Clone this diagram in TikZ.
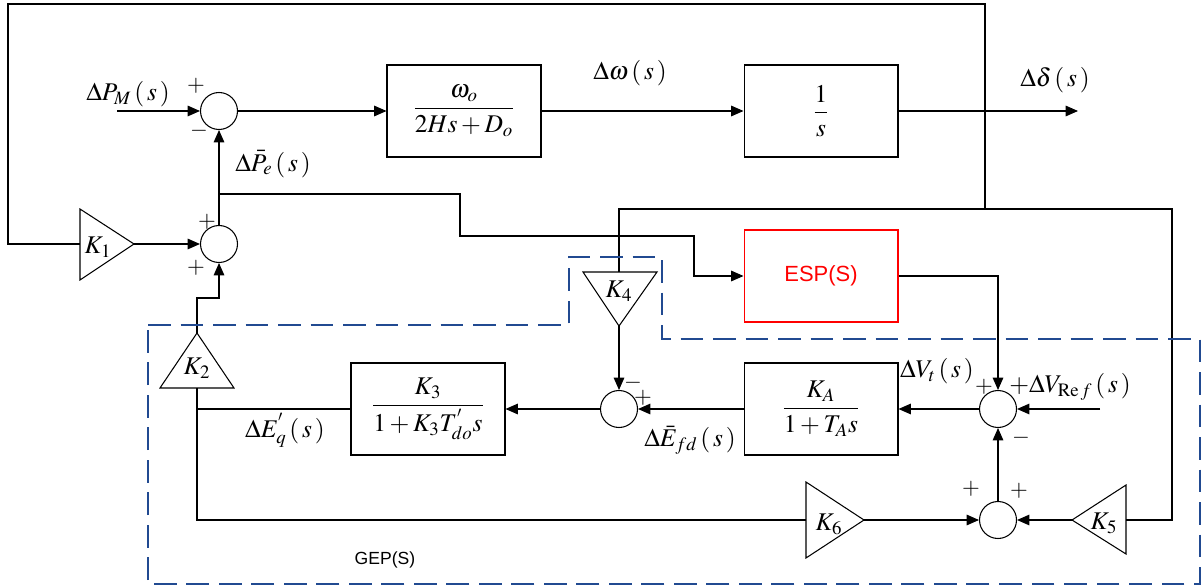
\documentclass[tikz,border=0pt]{standalone}
\usepackage{amsmath}
\usepackage{mathptmx}
\usepackage[no-math]{fontspec}
\newfontfamily\arial{Liberation Sans}
\usetikzlibrary{arrows.meta}

\definecolor{gepblue}{RGB}{33,74,145}
\tikzset{
  sig/.style={-{Triangle[length=7pt,width=6pt]}},
  blk/.style={draw,minimum width=3.08cm,minimum height=1.84cm,inner sep=0pt},
  sumnode/.style={circle,draw,minimum size=0.74cm,inner sep=0pt},
  gep/.style={draw=gepblue,line width=1.6pt,dash pattern=on 13pt off 5.5pt},
  sign/.style={font=\fontsize{13}{15}\selectfont},
}

\begin{document}
\begin{tikzpicture}[x=0.02cm,y=-0.02cm,line width=0.6pt,
  every node/.style={font=\fontsize{14.5}{17}\selectfont}]
\useasboundingbox (0,0) rectangle (1202,587);

% summing points
\node[sumnode] (s1) at (219,111) {};
\node[sumnode] (s2) at (219,244) {};
\node[sumnode] (s3) at (998,409) {};
\node[sumnode] (s4) at (619,409) {};
\node[sumnode] (s5) at (998,520) {};

% transfer blocks
\node[blk] (b1) at (464,111) {$\dfrac{\omega_o}{2Hs+D_o}$};
\node[blk] (b2) at (821,111) {$\dfrac{1}{s}$};
\node[blk,draw=red] (esp) at (821,276) {\arial\fontsize{12.5}{14}\selectfont\color{red}ESP(S)};
\node[blk] (ka) at (821,409) {$\dfrac{K_A}{1+T_A s}$};
\node[blk] (k3) at (428,409) {$\dfrac{K_3}{1+K_3T^{'}_{do}s}$};

% gains
\draw (80,209) -- (134,244) -- (80,280) -- cycle;
\coordinate (k1b) at (80,244); \coordinate (k1a) at (134,244);
\node (k1) at (98,247) {$K_1$};
\draw (160,388) -- (197,333) -- (234,388) -- cycle;
\coordinate (k2a) at (197,333); \coordinate (k2b) at (197,388);
\node (k2) at (197,368) {$K_2$};
\draw (583,272) -- (619,326) -- (657,272) -- cycle;
\coordinate (k4b) at (619,272); \coordinate (k4a) at (619,326);
\node (k4) at (619,291) {$K_4$};
\draw (806,482) -- (864,520) -- (806,558) -- cycle;
\coordinate (k6b) at (806,520); \coordinate (k6a) at (864,520);
\node (k6) at (829,524) {$K_6$};
\draw (1126,485) -- (1072,520) -- (1126,554) -- cycle;
\coordinate (k5a) at (1072,520); \coordinate (k5b) at (1126,520);
\node (k5) at (1104,523) {$K_5$};

% forward path
\coordinate (pm) at (117,111);
\coordinate (out) at (1078,111);
\draw[sig] (pm) -- (s1.west);
\draw[sig] (s1.east) -- (b1.west);
\draw[sig] (b1.east) -- (b2.west);
\draw[sig] (b2.east) -- (out);

% rotor angle fed back to K1, K4, K5
\coordinate (tl) at (8,4); \coordinate (tr) at (985,4);
\coordinate (tj) at (985,209); \coordinate (dr) at (1172,209);
\draw (tj) -- (tr) -- (tl) |- (k1b);
\draw (k4b) |- (tj) -- (dr) |- (k5b);

\draw[sig] (k1a) -- (s2.west);
\draw[sig] (s2.north) -- (s1.south);
\coordinate (br) at (219,194);
\draw[sig] (br) -- (460,194) -- (460,236) -- (694,236) |- (esp.west);
\draw[sig] (esp.east) -| (s3.north);

% excitation loop
\coordinate (vref) at (1100,409);
\draw[sig] (vref) -- (s3.east);
\draw[sig] (s3.west) -- (ka.east);
\draw[sig] (ka.west) -- (s4.east);
\draw[sig] (k4a) -- (s4.north);
\draw[sig] (s4.west) -- (k3.east);
\draw (k3.west) -- (k3.west -| k2b);
\draw (k2b) |- (k6b);
\draw[sig] (k2a) -- (197,298) -| (s2.south);
\draw[sig] (k6a) -- (s5.west);
\draw[sig] (k5a) -- (s5.east);
\draw[sig] (s5.north) -- (s3.south);

% signal names
\node (lpm) at (128,94) {$\Delta P_M\left(\,s\,\right)$};
\node (lpe) at (273,164) {$\Delta \bar{P}_e\left(\,s\,\right)$};
\node (lw) at (630,73) {$\Delta\omega\left(\,s\,\right)$};
\node (ld) at (1055,80) {$\Delta\delta\left(\,s\,\right)$};
\node (lvt) at (937,371) {$\Delta V_t\left(\,s\,\right)$};
\node (lvr) at (1070,387) {$+\Delta V_{\mathrm{Re}\,f}\left(\,s\,\right)$};
\node (lefd) at (690,440) {$\Delta \bar{E}_{fd}\left(\,s\,\right)$};
\node (leq) at (285,430) {$\Delta E^{'}_q\left(\,s\,\right)$};

% signs
\node[sign] at (196,86) {$+$};
\node[sign] at (199,131) {$-$};
\node[sign] at (207,222) {$+$};
\node[sign] at (196,268) {$+$};
\node[sign] at (984,387) {$+$};
\node[sign] at (1021,438) {$-$};
\node[sign] at (633,383) {$-$};
\node[sign] at (643,398) {$+$};
\node[sign] at (971,489) {$+$};
\node[sign] at (1019,491) {$+$};

% exciter / field part
\draw[gep] (148,325) -- (569,325) -- (569,257) -- (662,257) -- (662,339)
  -- (1200,339) -- (1200,584) -- (148,584) -- cycle;
\node (gep) at (385,560) {\arial\fontsize{10}{12}\selectfont GEP(S)};
\end{tikzpicture}
\end{document}
